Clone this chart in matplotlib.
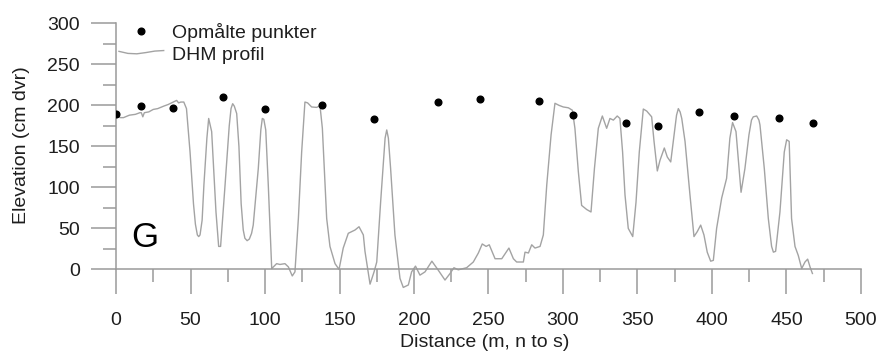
import numpy as np
import matplotlib
matplotlib.use("Agg")
import matplotlib.pyplot as plt
from matplotlib.lines import Line2D
from matplotlib.legend_handler import HandlerLine2D, HandlerBase

# Surveyed points (distance m, elevation cm DVR)
survey_x = [0, 17, 38, 72, 100, 138, 173, 216, 244, 284, 307, 342, 364, 391, 415, 445, 468]
survey_y = [190, 199, 197, 210, 195, 201, 183, 204, 208, 205, 188, 179, 175, 192, 187, 185, 179]

# DHM elevation profile along the transect
profile_x = [0, 3, 5, 9, 13, 16, 17, 18, 19, 22, 25, 28, 32, 35, 38.5, 40.7, 42, 43.5, 45.5,
             47.3, 49.7, 52, 53.3, 54.6, 55.5, 56.4, 57.8, 59, 61, 62.2, 64.2, 67.1, 68.9, 70.2,
             73.2, 76, 77.2, 78.3, 79.4,
             81, 82.5, 84, 85.4, 86.5, 88, 89.5, 91, 92.1, 95.5, 97.2, 98.2, 99.2, 100.5, 102.2,
             104.5, 107.8,
             110, 113.4, 115.7, 118.3, 120.1, 122.4, 124.6, 126.8, 128.6, 131.3, 134.7, 136.9,
             138.5, 141.4, 143.6, 147, 149.7, 152.5, 155.9, 160.4, 163.1, 166, 167.1, 170.5,
             173.2, 175, 177.6, 180.6, 181.7, 182.8, 184.3, 187.2, 190.6, 192.8, 196.2, 198.4,
             201, 204,
             207.4, 212, 216.3, 220.8, 224.2, 226.8, 229.7, 235.3, 239.8, 243.2, 245.8, 248.4,
             250.5, 254.4, 258.9, 263.7, 266.7, 268.9, 273.4, 274.5, 276.8, 279, 281.2, 284.6,
             286.8, 289.1, 292, 294.6, 297.3, 300.2, 303.6, 306.3, 308, 310.3, 312.5, 315.9,
             318.8, 321.1, 323.7, 326.4, 329.3, 331.5, 333.8, 336.4, 338.2, 340, 341.6, 343.8,
             346.8, 349, 351.2, 353.9, 356.2, 359.5, 361.1, 363.3, 365.1, 368, 370, 372.3, 374,
             376.2, 377.4, 378.6, 379.7, 381.9, 385.2, 387.9, 390.1, 392.4, 394.6, 396.8, 399.1,
             400.9, 403.1,
             406.5, 409.8, 412, 413.8, 416.1, 419.5, 422.1, 424.8, 426.5, 427.7, 430, 431.5,
             432.2, 435.1,
             437.8, 440, 441.2, 442.7, 445.6, 448.5, 450.1, 451.8, 453.4, 455.7, 457.9, 460.2,
             462.4, 464.2, 465.8, 467.4]
profile_y = [187, 185, 185, 188, 189, 191, 191, 186, 191, 192, 195, 196, 199, 201, 204, 206, 203, 204, 204,
             196, 143, 80, 55, 42, 40, 42, 60, 103, 160, 184, 168, 70, 28, 28,
             103, 175, 196, 202, 199,
             190, 150, 80, 48, 38, 35, 37, 44, 54, 123, 170, 184, 183, 170, 103,
             1, 7,
             6, 7, 3, -8, -3, 62, 143, 204, 203, 198, 197.5, 199.5,
             172, 62, 28, 7, 0, 26, 44, 48, 52, 42, 22, -18,
             -3, 9, 82, 160, 170, 160, 123, 42, -11, -22, -19, -3,
             4, -7,
             -3, 10, -1, -13, -5, 2, -0.5, 2, 9, 20, 31, 28,
             30, 13, 13, 26, 13, 9, 9, 21, 20, 30, 26, 28,
             42, 103, 164, 202.5, 200, 198, 197, 194, 172, 119, 78, 73,
             70, 123, 172, 187, 172, 184, 182, 187, 184, 143, 91, 50,
             40, 82, 143, 195.5, 193, 186, 156, 120, 133, 148, 137, 131, 156,
             188, 196, 192, 184, 156, 91, 40, 46, 54, 42, 21, 10,
             11, 50,
             87, 111, 160, 179, 168, 94, 123, 164, 182, 186, 187, 182,
             176, 123,
             62, 28, 21, 22, 70, 143, 158, 156, 62, 28, 17, 1,
             9, 12.5, 3, -5]

x_ticks = [0, 50, 100, 150, 200, 250, 300, 350, 400, 450, 500]
y_ticks = [0, 50, 100, 150, 200, 250, 300]

plt.rcParams['font.family'] = ['Liberation Sans', 'DejaVu Sans']

AXIS_GREY = '#9a9a9a'
LINE_GREY = '#a3a3a3'
TEXT_COL = '#1e1e1e'


class MarkerAtRight(HandlerLine2D):
    """Single marker drawn near the right end of the handle box."""
    def get_xdata(self, legend, xdescent, ydescent, width, height, fontsize):
        xdata, _ = super().get_xdata(legend, xdescent, ydescent, width, height, fontsize)
        return xdata, [-xdescent + 0.93 * width]


class WavyLine(HandlerBase):
    """Short, gently undulating line sample for the profile entry."""
    shape = [0.12, -0.03, -0.06, 0.03, 0.14, 0.18]

    def create_artists(self, legend, orig_handle, xdescent, ydescent,
                       width, height, fontsize, trans):
        xs = np.linspace(-xdescent, -xdescent + width, len(self.shape))
        ys = (height - ydescent) / 2 + np.array(self.shape) * height
        line = Line2D(xs, ys)
        self.update_prop(line, orig_handle, legend)
        line.set_transform(trans)
        return [line]


fig = plt.figure(figsize=(8.79, 3.54), dpi=100)
ax = fig.add_axes([116 / 879, 60 / 354, 745 / 879, 270.7 / 354])

ax.plot(profile_x, profile_y, color=LINE_GREY, lw=1.0, zorder=2)
ax.plot(survey_x, survey_y, 'o', color='black', ms=4.8, zorder=3)

ax.set_xlim(0, 500)
ax.set_ylim(-30, 300)

for side in ('top', 'right'):
    ax.spines[side].set_visible(False)
ax.spines['bottom'].set_position(('data', 0))
ax.spines['bottom'].set_bounds(0, 500)
ax.spines['left'].set_bounds(0, 300)
for side in ('bottom', 'left'):
    ax.spines[side].set_color(AXIS_GREY)
    ax.spines[side].set_linewidth(1.1)

ax.set_xticks(x_ticks)
ax.set_xticks(np.arange(25, 500, 50), minor=True)
ax.set_yticks(y_ticks)
ax.set_yticks(np.arange(25, 300, 50), minor=True)
ax.set_xticklabels([str(v) for v in x_ticks])
ax.set_yticklabels([str(v) for v in y_ticks])

ax.tick_params(axis='both', which='major', direction='out', length=18, width=1.1,
               color=AXIS_GREY, labelsize=14, labelcolor=TEXT_COL)
ax.tick_params(axis='both', which='minor', direction='out', length=9.2, width=1.1,
               color=AXIS_GREY)
ax.tick_params(axis='x', which='major', pad=13)
ax.tick_params(axis='y', which='major', pad=8)

ax.set_xlabel('Distance (m, n to s)', fontsize=14, color=TEXT_COL)
ax.set_ylabel('Elevation (cm dvr)', fontsize=14, color=TEXT_COL)
ax.xaxis.set_label_coords(0.495, -0.146)
ax.yaxis.set_label_coords(-0.116, 0.55)

ax.text(19.5, 38.5, 'G', fontsize=25, ha='center', va='center', color='black')

dot_handle = Line2D([], [], ls='none', marker='o', color='black', ms=4.8)
line_handle = Line2D([], [], color=LINE_GREY, lw=1.0)
ax.legend([dot_handle, line_handle], ['Opmålte punkter', 'DHM profil'],
          handler_map={dot_handle: MarkerAtRight(numpoints=1), line_handle: WavyLine()},
          loc='upper left', bbox_to_anchor=(0.004, 1.0), frameon=False,
          fontsize=14, handlelength=2.3, handletextpad=0.45, labelspacing=0.2,
          borderpad=0, borderaxespad=0, labelcolor=TEXT_COL)

fig.savefig('out.png', dpi=100, facecolor='white')
